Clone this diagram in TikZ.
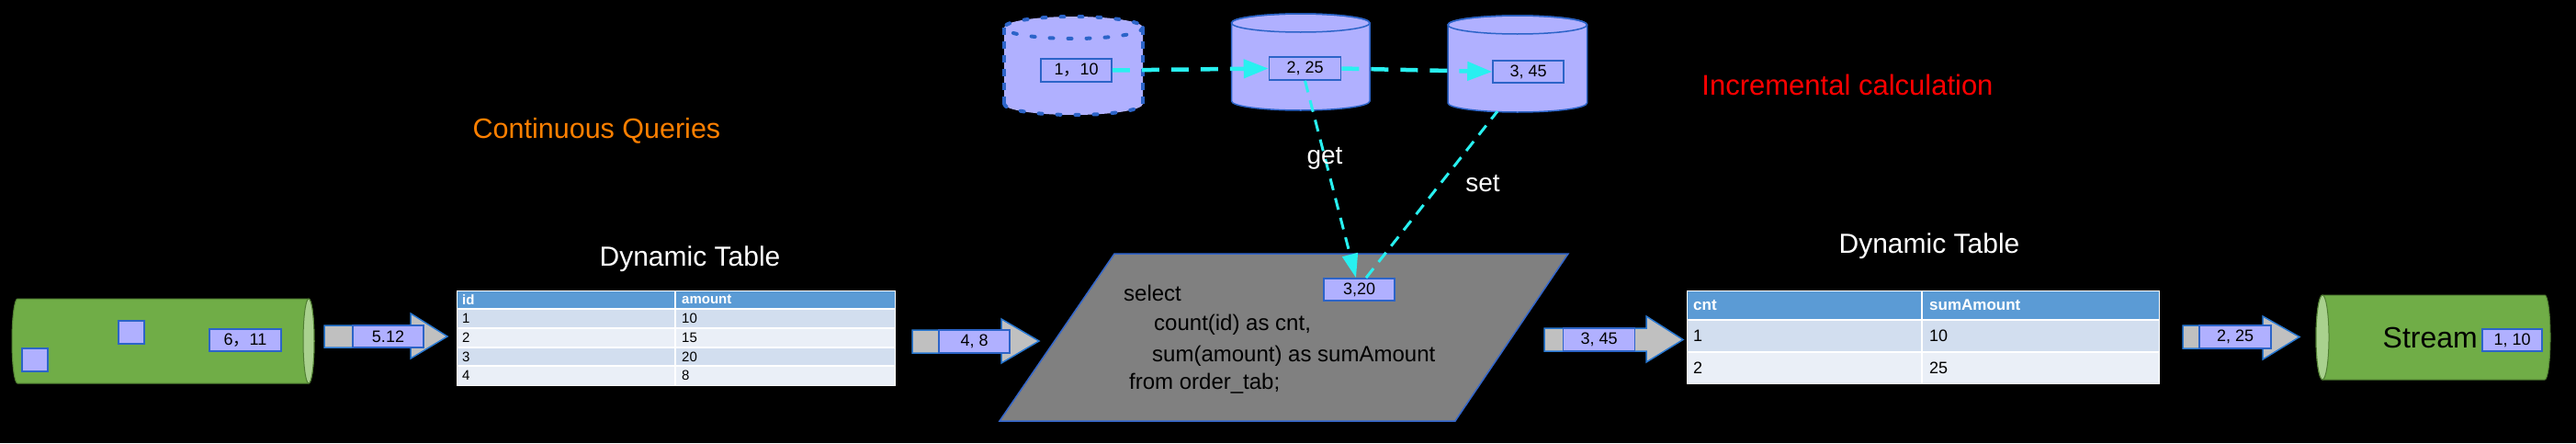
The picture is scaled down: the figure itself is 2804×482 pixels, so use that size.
\documentclass[tikz,border=0pt]{standalone}
\usepackage{fontspec}
\setmainfont{Liberation Sans}
\newfontfamily\cjk{Noto Sans CJK SC}
\usetikzlibrary{arrows.meta}
\definecolor{lav}{RGB}{176,176,255}
\definecolor{boxblue}{RGB}{44,100,200}
\definecolor{arrowgray}{RGB}{192,192,192}
\definecolor{arrowblue}{RGB}{40,120,210}
\definecolor{cylgreen}{RGB}{112,173,71}
\definecolor{cyllight}{RGB}{169,209,142}
\definecolor{cylborder}{RGB}{80,126,50}
\definecolor{qgray}{RGB}{128,128,128}
\definecolor{qblue}{RGB}{51,102,204}
\definecolor{flowcyan}{RGB}{40,240,240}
\definecolor{hdrblue}{RGB}{91,155,213}
\definecolor{rowa}{RGB}{210,222,239}
\definecolor{rowb}{RGB}{234,239,247}
\definecolor{orangetxt}{RGB}{255,128,0}
\newcommand{\fsz}[1]{\fontsize{#1}{#1}\selectfont}
\tikzset{
  valbox/.style={draw=boxblue, fill=lav, line width=1.6pt, inner sep=0pt, text=black, minimum width=77pt, minimum height=25pt, font=\fsz{18}},
  flow/.style={draw=flowcyan, line width=4.5pt, dash pattern=on 19pt off 13pt, -{Triangle[length=27pt,width=20pt]}},
  diagflow/.style={draw=flowcyan, line width=3pt, dash pattern=on 13pt off 9pt},
  blockarrow/.style={fill=arrowgray, draw=arrowblue, line width=1.5pt, line join=miter},
  cylbody/.style={fill=lav, draw=boxblue, line width=1.5pt},
  streamcyl/.style={fill=cylgreen, draw=cylborder, line width=1pt},
  cellline/.style={draw=white, line width=1.5pt},
  celltxt/.style={anchor=west, inner sep=0pt, text=black},
  hdrtxt/.style={anchor=west, inner sep=0pt, text=white},
  sqltxt/.style={anchor=west, inner sep=0pt, text=black, font=\fsz{24}},
  whitetxt/.style={text=white, inner sep=0pt}
}
\begin{document}
\begin{tikzpicture}[x=1pt,y=-1pt]
\fill[black] (0,0) rectangle (2804,482);
\useasboundingbox (0,0) rectangle (2804,482);

% ---------- left stream cylinder ----------
\draw[streamcyl] (19,325) arc[start angle=270,end angle=90,x radius=6,y radius=46]
  -- (336,417) arc[start angle=90,end angle=-90,x radius=6,y radius=46] -- cycle;
\fill[cyllight, draw=cylborder, line width=1pt] (336,371) ellipse[x radius=6,y radius=46];
\node[valbox, minimum width=28pt, minimum height=25pt] (sq1) at (38,391.5) {};
\node[valbox, minimum width=28pt, minimum height=25pt] (sq2) at (143,361.5) {};
\node[valbox, minimum width=78pt, minimum height=24pt] (v611) at (267,370) {6{\cjk ，}11};

% ---------- arrow 1 ----------
\draw[blockarrow] (353,354) -- (447,354) -- (447,341) -- (487,366) -- (447,390) -- (447,378) -- (353,378) -- cycle;
\node[valbox, minimum height=24pt] (v512) at (422.5,366) {5.12};

% ---------- table 1 ----------
\node[whitetxt, font=\fsz{30}] (t1title) at (751,282) {Dynamic Table};
\fill[hdrblue] (497,316) rectangle (974,336);
\fill[rowa] (497,336) rectangle (974,357);
\fill[rowb] (497,357) rectangle (974,378);
\fill[rowa] (497,378) rectangle (974,398);
\fill[rowb] (497,398) rectangle (974,419);
\draw[cellline] (497,336) -- (974,336) (497,357) -- (974,357) (497,378) -- (974,378) (497,398) -- (974,398) (735,316) -- (735,419);
\draw[white, line width=1pt] (497,316) rectangle (974,419);
\node[hdrtxt, font=\bfseries\fsz{15}] (t1h1) at (503,326) {id};
\node[hdrtxt, font=\bfseries\fsz{15}] (t1h2) at (742,326) {amount};
\node[celltxt, font=\fsz{15}] (t1a1) at (503,346.5) {1};
\node[celltxt, font=\fsz{15}] (t1b1) at (742,346.5) {10};
\node[celltxt, font=\fsz{15}] (t1a2) at (503,367.5) {2};
\node[celltxt, font=\fsz{15}] (t1b2) at (742,367.5) {15};
\node[celltxt, font=\fsz{15}] (t1a3) at (503,388) {3};
\node[celltxt, font=\fsz{15}] (t1b3) at (742,388) {20};
\node[celltxt, font=\fsz{15}] (t1a4) at (503,408.5) {4};
\node[celltxt, font=\fsz{15}] (t1b4) at (742,408.5) {8};

% ---------- arrow 2 ----------
\draw[blockarrow] (993,359) -- (1090,359) -- (1090,347) -- (1131,371) -- (1090,395) -- (1090,384) -- (993,384) -- cycle;
\node[valbox] (v48) at (1060.5,371.5) {4, 8};

% ---------- query parallelogram ----------
\draw[fill=qgray, draw=qblue, line width=1.5pt] (1213,276) -- (1707,276) -- (1584,458) -- (1088,458) -- cycle;
\node[sqltxt] (sql1) at (1223,319) {select};
\node[sqltxt] (sql2) at (1256,353) {count(id) as cnt,};
\node[sqltxt] (sql3) at (1254,387) {sum(amount) as sumAmount};
\node[sqltxt] (sql4) at (1229,417) {from order\_tab;};
\node[valbox, minimum height=24pt] (v320) at (1479.5,315) {3,20};

% ---------- state cylinders ----------
% A (dashed / dotted)
\fill[lav] (1093,30) -- (1093,113) arc[start angle=180,end angle=0,x radius=75.5,y radius=12] -- (1244,30) arc[start angle=0,end angle=-180,x radius=75.5,y radius=12] -- cycle;
\draw[boxblue, line width=3.5pt, dash pattern=on 8pt off 7pt] (1093,30) -- (1093,113) (1244,30) -- (1244,113);
\draw[boxblue, line width=4pt, line cap=round, dash pattern=on 4pt off 16pt] (1168.5,30) ellipse[x radius=75.5,y radius=12];
\draw[boxblue, line width=4pt, line cap=round, dash pattern=on 4pt off 16pt] (1093,113) arc[start angle=180,end angle=0,x radius=75.5,y radius=12];
\node[valbox] (b1) at (1171.5,76.5) {1{\cjk ，}10};
% B
\draw[cylbody] (1340.5,25) -- (1340.5,110) arc[start angle=180,end angle=0,x radius=75.25,y radius=10] -- (1491,25) arc[start angle=0,end angle=-180,x radius=75.25,y radius=10] -- cycle;
\draw[boxblue, line width=1.5pt] (1415.75,25) ellipse[x radius=75.25,y radius=10];
\node[valbox, minimum width=78pt] (b2) at (1420.5,74.5) {2, 25};
% C
\draw[cylbody] (1576,27) -- (1576,112) arc[start angle=180,end angle=0,x radius=75.75,y radius=10] -- (1727.5,27) arc[start angle=0,end angle=-180,x radius=75.75,y radius=10] -- cycle;
\draw[boxblue, line width=1.5pt] (1651.75,27) ellipse[x radius=75.75,y radius=10];
\node[valbox, minimum height=24pt] (b3) at (1663.5,78) {3, 45};
\coordinate (cbottom) at (1630,121);

% ---------- cyan flows ----------
\draw[flow] (b1.east) -- (b2.west);
\draw[flow] (b2.east) -- (b3.west);
\draw[diagflow, -{Triangle[length=26pt,width=17pt]}] (b2.south) -- ([xshift=-3.5pt]v320.north);
\draw[diagflow] ([xshift=7.5pt]v320.north) -- (cbottom);
\node[whitetxt, font=\fsz{28}] (lget) at (1442,172) {get};
\node[whitetxt, font=\fsz{28}] (lset) at (1614,200) {set};

% ---------- arrow 3 ----------
\draw[blockarrow] (1681,357) -- (1792,357) -- (1792,344) -- (1832,369.5) -- (1792,394) -- (1792,382) -- (1681,382) -- cycle;
\node[valbox, minimum width=78pt] (v345) at (1740.5,369.5) {3, 45};

% ---------- table 2 ----------
\node[whitetxt, font=\fsz{30}] (t2title) at (2100,268) {Dynamic Table};
\fill[hdrblue] (1836,316) rectangle (2350,348);
\fill[rowa] (1836,348) rectangle (2350,383);
\fill[rowb] (1836,383) rectangle (2350,417);
\draw[cellline] (1836,348) -- (2350,348) (1836,383) -- (2350,383) (2092,316) -- (2092,417);
\draw[white, line width=1pt] (1836,316) rectangle (2350,417);
\node[hdrtxt, font=\bfseries\fsz{17}] (t2h1) at (1843,332) {cnt};
\node[hdrtxt, font=\bfseries\fsz{17}] (t2h2) at (2100,332) {sumAmount};
\node[celltxt, font=\fsz{18}] (t2a1) at (1843,365.5) {1};
\node[celltxt, font=\fsz{18}] (t2b1) at (2100,365.5) {10};
\node[celltxt, font=\fsz{18}] (t2a2) at (1843,400) {2};
\node[celltxt, font=\fsz{18}] (t2b2) at (2100,400) {25};

% ---------- arrow 4 ----------
\draw[blockarrow] (2376,354) -- (2463,354) -- (2463,344) -- (2503,366.5) -- (2463,391) -- (2463,379) -- (2376,379) -- cycle;
\node[valbox, minimum width=78pt] (v225) at (2433,366.5) {2, 25};

% ---------- output stream cylinder ----------
\draw[streamcyl] (2528,321) -- (2770,321) arc[start angle=-90,end angle=90,x radius=6,y radius=46]
  -- (2528,413) arc[start angle=90,end angle=270,x radius=7,y radius=46] -- cycle;
\fill[cyllight, draw=cylborder, line width=1pt] (2528,367) ellipse[x radius=7,y radius=46];
\node[anchor=east, inner sep=0pt, text=black, font=\fsz{32}] (stxt) at (2697,367) {Stream};
\node[valbox, minimum width=65pt, minimum height=24pt] (v110) at (2734.5,370) {1, 10};

% ---------- captions ----------
\node[text=orangetxt, inner sep=0pt, font=\fsz{30.5}] (capcq) at (649.5,142) {Continuous Queries};
\node[text=red, inner sep=0pt, font=\fsz{31}] (capic) at (2011,92) {Incremental calculation};
\end{tikzpicture}
\end{document}
